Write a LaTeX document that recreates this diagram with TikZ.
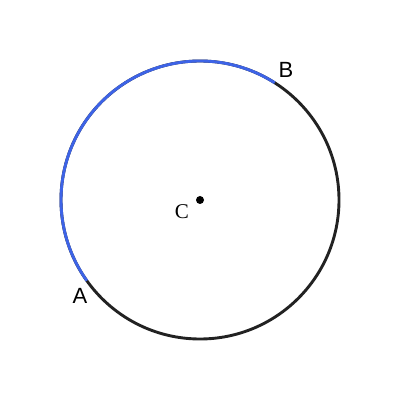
\documentclass[tikz,border=0pt]{standalone}
\usepackage{fontspec}
\setmainfont{Liberation Serif}
\newfontfamily\labelfont{Liberation Sans}
\usepackage{tikz}
\usetikzlibrary{calc}
\definecolor{arcblue}{HTML}{3D63E6}
\definecolor{rimgray}{HTML}{222222}
\tikzstyle{rim} = [draw=rimgray, line width=2.9pt]
\tikzstyle{arcline} = [draw=arcblue, line width=2.9pt]
\tikzstyle{endlabel} = [font=\labelfont\fontsize{22}{26}\selectfont, inner sep=0pt]
\tikzstyle{centrelabel} = [font=\fontsize{21}{25}\selectfont, inner sep=0pt]

\begin{document}
\begin{tikzpicture}[x=1pt, y=1pt]
    \useasboundingbox (0,0) rectangle (400,400);
    % Nodes
    \coordinate (centre) at (200,200);
    \coordinate (b) at ($(centre)+(57.5:139)$);
    \coordinate (a) at ($(centre)+(215.5:139)$);
    \node [endlabel] (blabel) at (286,330) {B};
    \node [endlabel] (alabel) at (80,104) {A};
    \node [centrelabel] (clabel) at (182,188) {C};
    % Circle and arc
    \path[rim] (centre) circle (139);
    \path[arcline] (b) arc (57.5:215.5:139);
    \fill (centre) circle (4);
\end{tikzpicture}
\end{document}
